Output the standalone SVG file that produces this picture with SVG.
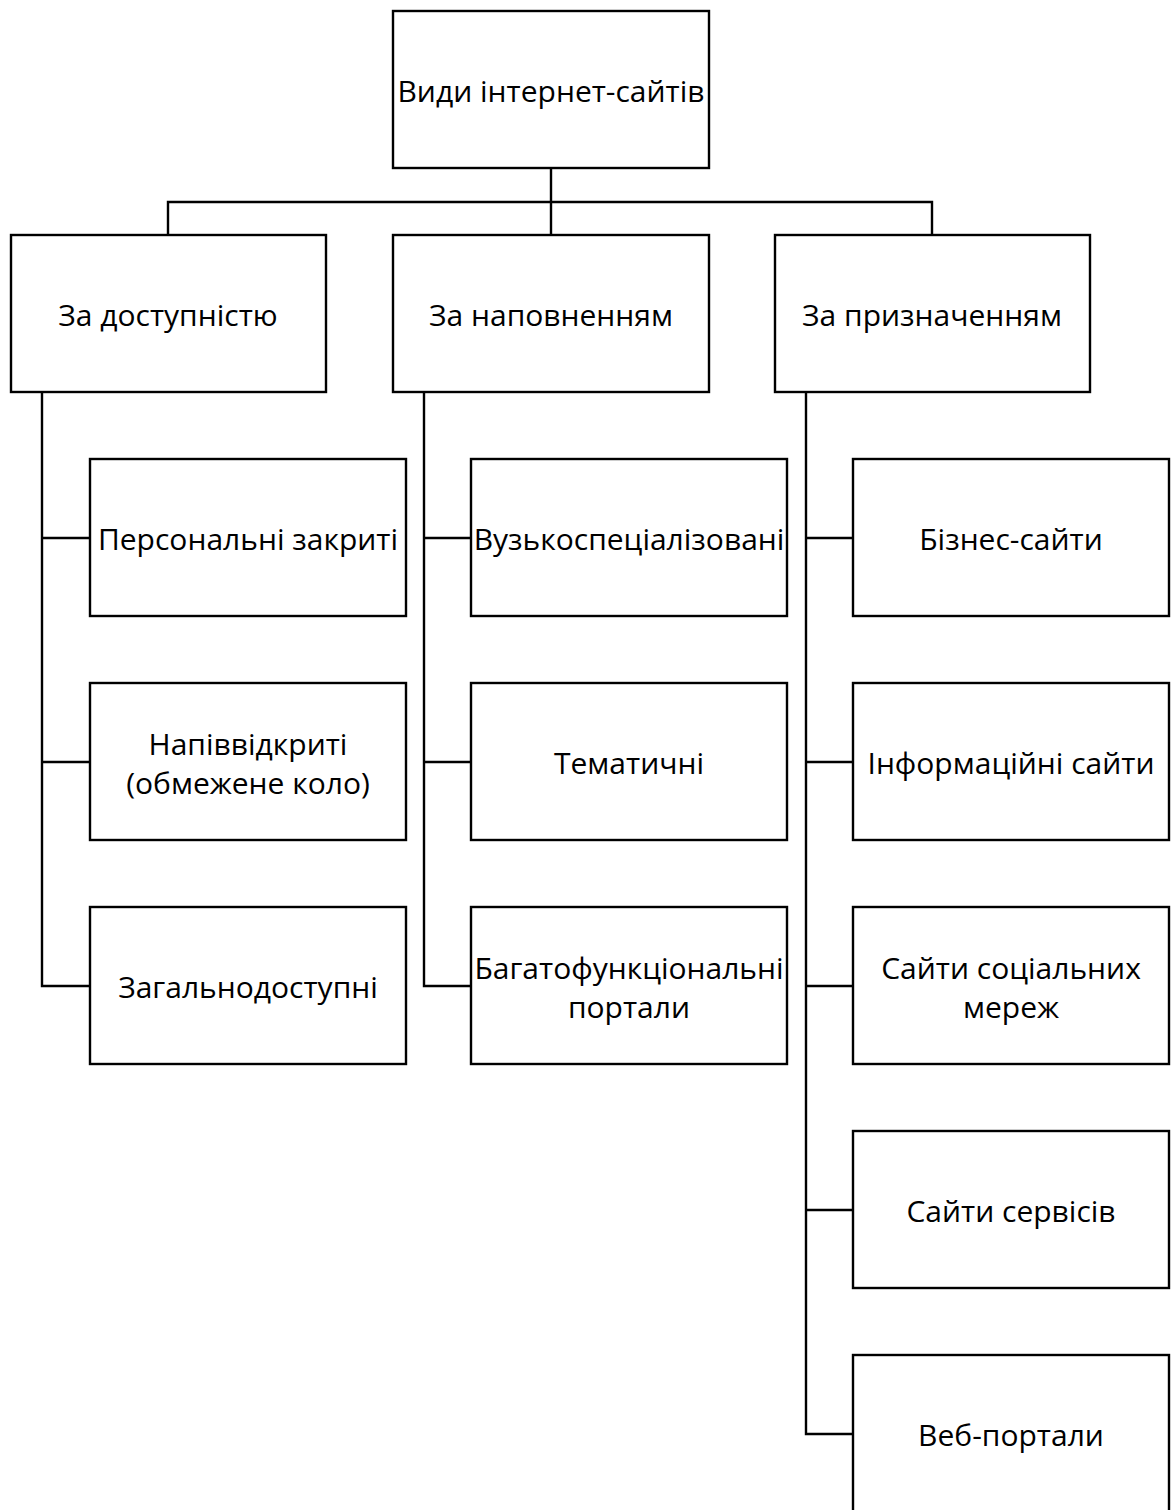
<svg xmlns="http://www.w3.org/2000/svg" width="1173" height="1510" viewBox="0 0 1173 1510">
<style>
.b{fill:#fff;stroke:#000;stroke-width:2.4}
.c{fill:none;stroke:#000;stroke-width:2.4}
text{font-family:"Open Sans","Noto Sans",sans-serif;font-size:30px;fill:#000;text-anchor:middle;dominant-baseline:central}
</style>
<rect width="1173" height="1510" fill="#fff"/>
<g id="connectors">
<path class="c" d="M551 168V235M168 235V202H932V235"/>
<path class="c" d="M42 392V986H90M42 538H90M42 762H90"/>
<path class="c" d="M424 392V986H471M424 538H471M424 762H471"/>
<path class="c" d="M806 392V1434H853M806 538H853M806 762H853M806 986H853M806 1210H853"/>
</g>
<g id="root"><rect class="b" x="393" y="11" width="316" height="157"/><text x="551" y="90">Види інтернет-сайтів</text></g>
<g id="n1"><rect class="b" x="11" y="235" width="315" height="157"/><text x="168" y="314">За доступністю</text></g>
<g id="n2"><rect class="b" x="393" y="235" width="316" height="157"/><text x="551" y="314">За наповненням</text></g>
<g id="n3"><rect class="b" x="775" y="235" width="315" height="157"/><text x="932" y="314">За призначенням</text></g>
<g id="a1"><rect class="b" x="90" y="459" width="316" height="157"/><text x="248" y="538">Персональні закриті</text></g>
<g id="a2"><rect class="b" x="90" y="683" width="316" height="157"/><text x="248" y="743">Напіввідкриті</text><text x="248" y="782">(обмежене коло)</text></g>
<g id="a3"><rect class="b" x="90" y="907" width="316" height="157"/><text x="248" y="986">Загальнодоступні</text></g>
<g id="b1"><rect class="b" x="471" y="459" width="316" height="157"/><text x="629" y="538">Вузькоспеціалізовані</text></g>
<g id="b2"><rect class="b" x="471" y="683" width="316" height="157"/><text x="629" y="762">Тематичні</text></g>
<g id="b3"><rect class="b" x="471" y="907" width="316" height="157"/><text x="629" y="967">Багатофункціональні</text><text x="629" y="1006">портали</text></g>
<g id="c1"><rect class="b" x="853" y="459" width="316" height="157"/><text x="1011" y="538">Бізнес-сайти</text></g>
<g id="c2"><rect class="b" x="853" y="683" width="316" height="157"/><text x="1011" y="762">Інформаційні сайти</text></g>
<g id="c3"><rect class="b" x="853" y="907" width="316" height="157"/><text x="1011" y="967">Сайти соціальних</text><text x="1011" y="1006">мереж</text></g>
<g id="c4"><rect class="b" x="853" y="1131" width="316" height="157"/><text x="1011" y="1210">Сайти сервісів</text></g>
<g id="c5"><rect class="b" x="853" y="1355" width="316" height="157"/><text x="1011" y="1434">Веб-портали</text></g>
</svg>
